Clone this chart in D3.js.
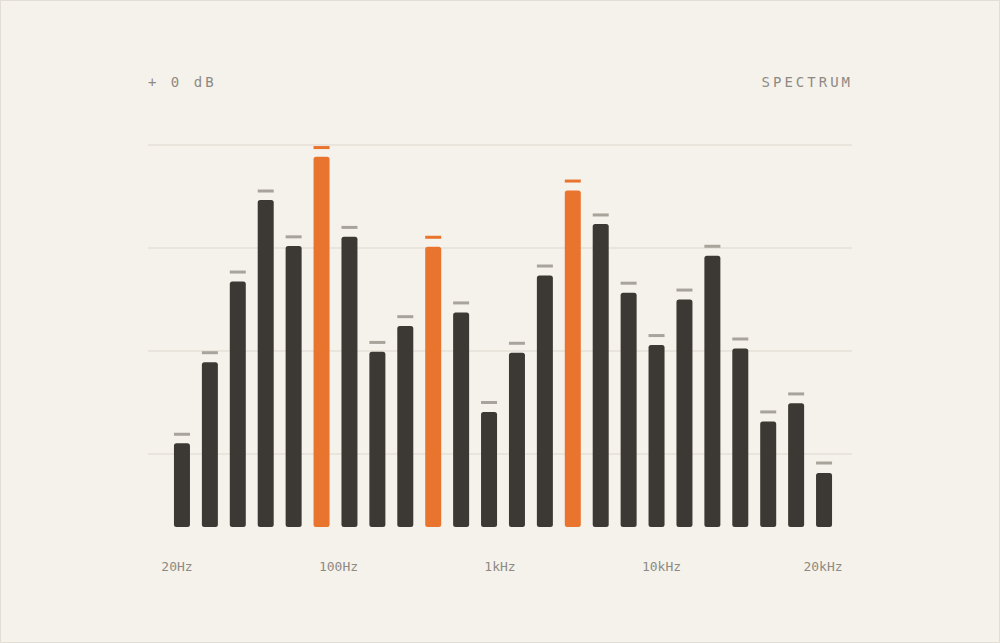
<!DOCTYPE html>
<html>
<head>
<meta charset="utf-8">
<script src="https://cdn.jsdelivr.net/npm/d3@7"></script>
<style>
  html, body { margin: 0; padding: 0; background: #f5f2ec; }
  svg { display: block; }
</style>
</head>
<body>
<svg class="chart" width="1000" height="643"></svg>
<script>
// band levels in dB (bar top) and held peaks in dB, 24 bands
const levels = [-34.75, -25.3, -15.9, -6.4, -11.77, -1.36, -10.7, -24.1, -21.1, -11.85, -19.5, -31.1,
  -24.2, -15.2, -5.3, -9.2, -17.2, -23.3, -18.0, -12.9, -23.7, -32.2, -30.1, -38.2];
const peaks = [-33.7, -24.2, -14.8, -5.36, -10.7, -0.3, -9.6, -23.0, -20.0, -10.75, -18.4, -30.0,
  -23.1, -14.1, -4.2, -8.15, -16.1, -22.2, -16.9, -11.8, -22.6, -31.1, -29.0, -37.05];
const hot = [5, 9, 14]; // highlighted bands
const freqLabels = ["20Hz", "100Hz", "1kHz", "10kHz", "20kHz"];
const gridDb = [0, -12, -24, -36];

const svg = d3.select(".chart");
const width = 1000;
const height = 643;

svg.append("rect")
  .attr("x", 0.5).attr("y", 0.5)
  .attr("width", width - 1).attr("height", height - 1)
  .attr("fill", "#f5f2ec")
  .attr("stroke", "#e2ded6");

const left = 148, right = 852;
const baseY = 527;

const x = d3.scaleBand()
  .domain(d3.range(levels.length))
  .range([168, 838])
  .paddingInner(0.427)
  .paddingOuter(0.2135);

const y = d3.scaleLinear().domain([-48, 0]).range([557, 145]);

// gridlines
svg.append("g")
  .selectAll("line")
  .data(gridDb)
  .join("line")
  .attr("x1", left).attr("x2", right)
  .attr("y1", d => y(d)).attr("y2", d => y(d))
  .attr("stroke", "#e4e0d8")
  .attr("stroke-width", 1.5);

const bw = 16;
const bx = i => x(i) + x.bandwidth() / 2 - bw / 2;

// bars
svg.append("g")
  .selectAll("rect")
  .data(levels)
  .join("rect")
  .attr("x", (d, i) => bx(i))
  .attr("y", d => y(d))
  .attr("width", bw)
  .attr("height", d => baseY - y(d))
  .attr("rx", 2.5)
  .attr("fill", (d, i) => hot.includes(i) ? "#e8742e" : "#3c3833");

// peak hold markers
svg.append("g")
  .selectAll("rect")
  .data(peaks)
  .join("rect")
  .attr("x", (d, i) => bx(i))
  .attr("y", d => y(d) - 1.5)
  .attr("width", bw)
  .attr("height", 3)
  .attr("fill", (d, i) => hot.includes(i) ? "#e8742e" : "#a8a49c");

// frequency labels
const fx = d3.scalePoint().domain(freqLabels).range([177, 823]);
svg.append("g")
  .selectAll("text")
  .data(freqLabels)
  .join("text")
  .attr("x", d => fx(d))
  .attr("y", 571)
  .attr("text-anchor", "middle")
  .attr("font-family", "DejaVu Sans Mono, monospace")
  .attr("font-size", 13)
  .attr("fill", "#8e8a83")
  .text(d => d);

// header
svg.append("text")
  .attr("x", left)
  .attr("y", 87)
  .attr("font-family", "DejaVu Sans Mono, monospace")
  .attr("font-size", 14)
  .attr("letter-spacing", 3)
  .attr("fill", "#8e8a83")
  .text("+ 0 dB");

svg.append("text")
  .attr("x", right + 1)
  .attr("y", 87)
  .attr("text-anchor", "end")
  .attr("font-family", "DejaVu Sans Mono, monospace")
  .attr("font-size", 14)
  .attr("letter-spacing", 3)
  .attr("fill", "#8e8a83")
  .text("SPECTRUM");
</script>
</body>
</html>
